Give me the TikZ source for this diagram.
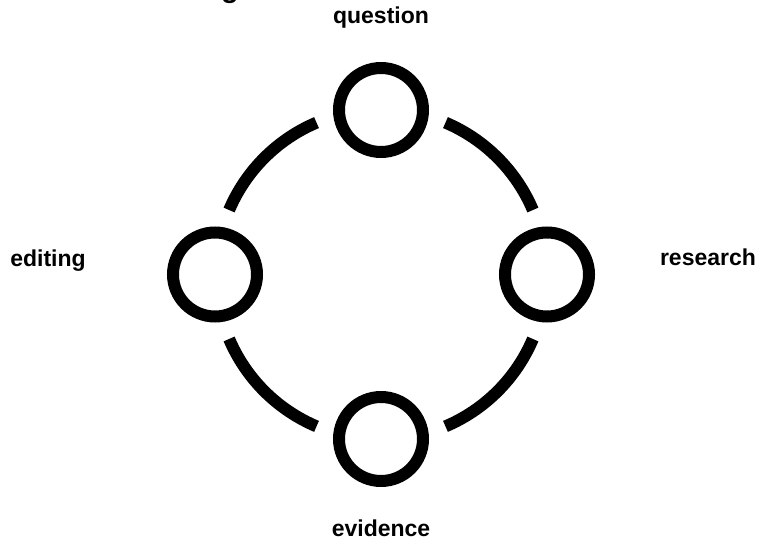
\documentclass[tikz,border=0pt]{standalone}
\usepackage{fontspec}
\setmainfont{Liberation Sans}
\begin{document}
\begin{tikzpicture}[x=1pt,y=-1pt,
  stage/.style={circle,draw=black,line width=12pt,minimum size=84pt,inner sep=0pt},
  label/.style={font=\fontsize{23}{26}\selectfont\bfseries,anchor=base,inner sep=0pt},
  link/.style={draw=black,line width=12pt,line cap=butt}]
\useasboundingbox (0,0) rectangle (761,545);
\fill[white] (0,0) rectangle (761,545);
\coordinate (c) at (381,274.5);
\node[font=\fontsize{29}{32}\selectfont\bfseries,anchor=base,inner sep=0pt] (title) at (230,-2.5) {g};
\node[stage] (q) at (381,110) {};
\node[stage] (r) at (547,274.5) {};
\node[stage] (e) at (381,439) {};
\node[stage] (d) at (215,274.5) {};
\node[label] (lq) at (381,24) {question};
\node[label] (lr) at (708,266) {research};
\node[label] (le) at (381,536) {evidence};
\node[label] (ld) at (48,267) {editing};
\draw[link] (c) ++(67:165) arc[start angle=67,end angle=23,radius=165];
\draw[link] (c) ++(-23:165) arc[start angle=-23,end angle=-67,radius=165];
\draw[link] (c) ++(-113:165) arc[start angle=-113,end angle=-157,radius=165];
\draw[link] (c) ++(157:165) arc[start angle=157,end angle=113,radius=165];
\end{tikzpicture}
\end{document}
